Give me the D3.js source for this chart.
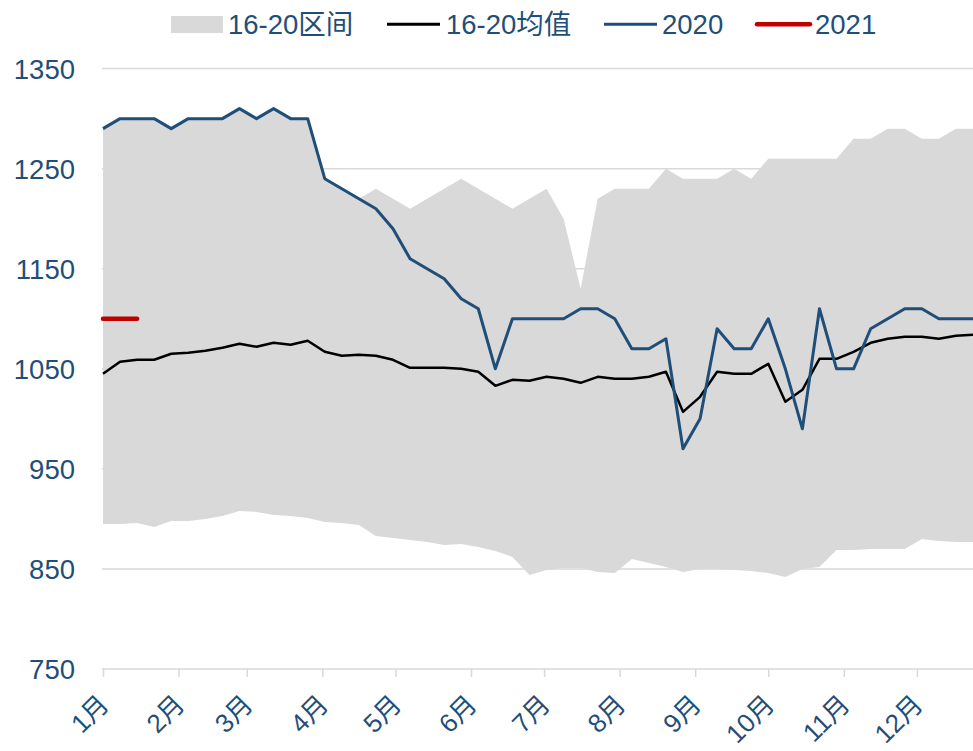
<!DOCTYPE html>
<html><head><meta charset="utf-8">
<script src="https://cdn.jsdelivr.net/npm/d3@7"></script>
<style>
html,body{margin:0;padding:0;background:#fff;}
svg text{font-family:"Liberation Sans","Noto Sans CJK SC",sans-serif;fill:#1F4E79;}
</style></head>
<body><svg id="c" width="973" height="751"></svg>
<script>
// ---- data ----
const monthLabels = ["1月","2月","3月","4月","5月","6月","7月","8月","9月","10月","11月","12月"];
const yTicks = [750, 850, 950, 1050, 1150, 1250, 1350];
const seriesNames = ["16-20区间", "16-20均值", "2020", "2021"];
const rangeUpper = [1290,1300,1300,1300,1290,1300,1300,1300,1310,1300,1310,1300,1300,
  1240,1230,1220,1230,1220,1210,1220,1230,1240,1230,1220,1210,1220,1230,
  1200,1130,1220,1230,1230,1230,1250,1240,1240,1240,1250,1240,
  1260,1260,1260,1260,1260,1280,1280,1290,1290,1280,1280,1290,1290];
const rangeLower = [895,895,896,892,898,898,900,903,908,907,904,903,901,
  897,896,894,883,881,879,877,874,875,872,868,862,844,
  849,851,851,847,846,860,856,852,847,850,850,849,848,
  846,842,850,852,869,869,870,870,870,880,878,877,877];
const avg1620 = [1045,1057,1059,1059,1065,1066,1068,1071,1075,1072,1076,1074,1078,
  1067,1063,1064,1063,1059,1051,1051,1051,1050,1047,1033,1039,1038,
  1042,1040,1036,1042,1040,1040,1042,1047,1007,1022,1047,1045,1045,
  1055,1017,1029,1060,1060,1067,1076,1080,1082,1082,1080,1083,1084];
const y2020 = [1290,1300,1300,1300,1290,1300,1300,1300,1310,1300,1310,1300,1300,
  1240,1230,1220,1210,1190,1160,1150,1140,1120,1110,1050,1100,1100,
  1100,1100,1110,1110,1100,1070,1070,1080,970,1000,1090,1070,1070,
  1100,1050,990,1110,1050,1050,1090,1100,1110,1110,1100,1100,1100];
const y2021 = [1100,1100,1100];

// ---- layout ----
const start = new Date(Date.UTC(2021,0,1));
const weeks = rangeUpper.map((_,i)=>d3.utcDay.offset(start, 7*i));
const svg = d3.select("#c");
const L = 103, R = 973, T = 68.6, B = 669;
const x = d3.scaleUtc().domain([weeks[0], weeks[weeks.length-1]]).range([L, R]);
const y = d3.scaleLinear().domain([750, 1350]).range([B, T]);
const FS = 27.5;
const cBand = "#d9d9d9", cAvg = "#000000", c2020 = "#1F4E79", c2021 = "#C00000";

// gridlines
svg.append("g").selectAll("line").data(yTicks.filter(v=>v>750)).join("line")
  .attr("x1", L-1).attr("x2", R).attr("y1", d=>y(d)).attr("y2", d=>y(d))
  .attr("stroke", cBand).attr("stroke-width", 1.5);

// band
const area = d3.area().x((d,i)=>x(weeks[i])).y0((d,i)=>y(rangeLower[i])).y1(d=>y(d));
svg.append("path").datum(rangeUpper).attr("d", area).attr("fill", cBand);

// x axis
const monthTicks = d3.utcMonth.range(start, new Date(Date.UTC(2021,11,2)));
const xAxis = d3.axisBottom(x).tickValues(monthTicks).tickSize(8)
  .tickFormat((d,i)=>monthLabels[i]);
const gx = svg.append("g").attr("transform", `translate(0,${B})`).call(xAxis);
gx.select(".domain").attr("stroke", cBand).attr("stroke-width", 1.5)
  .attr("d", `M${L-1},0H${R}`);
gx.selectAll(".tick line").attr("stroke", cBand).attr("stroke-width", 1.5);
gx.selectAll(".tick text").attr("fill", "#1F4E79").attr("font-size", 26)
  .attr("text-anchor", "end").attr("y", 0).attr("dy", 0)
  .attr("transform", "translate(7,37) rotate(-45)");

// y labels
const yAxis = d3.axisLeft(y).tickValues(yTicks).tickSize(0).tickPadding(0).tickFormat(d3.format("d"));
const gy = svg.append("g").attr("transform", `translate(75,0)`).call(yAxis);
gy.select(".domain").remove();
gy.selectAll(".tick text").attr("fill", "#1F4E79").attr("font-size", FS).attr("dy", "0.36em");

// lines
const line = d3.line().x((d,i)=>x(weeks[i])).y(d=>y(d));
svg.append("path").datum(avg1620).attr("d", line).attr("fill","none")
  .attr("stroke", cAvg).attr("stroke-width", 2.5).attr("stroke-linejoin","round");
svg.append("path").datum(y2020).attr("d", line).attr("fill","none")
  .attr("stroke", c2020).attr("stroke-width", 3).attr("stroke-linejoin","round");
svg.append("path").datum(y2021).attr("d", line).attr("fill","none")
  .attr("stroke", c2021).attr("stroke-width", 4.5).attr("stroke-linecap","round");

// legend
const lg = svg.append("g");
const legendItems = [
  {name: seriesNames[0], type: "rect", color: cBand, x: 171, tx: 228},
  {name: seriesNames[1], type: "line", color: cAvg, x: 387, tx: 446, w: 3},
  {name: seriesNames[2], type: "line", color: c2020, x: 604, tx: 662, w: 3},
  {name: seriesNames[3], type: "line", color: c2021, x: 757, tx: 815, w: 4.5}
];
legendItems.forEach(it=>{
  if (it.type === "rect") {
    lg.append("rect").attr("x", it.x).attr("y", 16).attr("width", 52).attr("height", 17).attr("fill", it.color);
  } else {
    lg.append("line").attr("x1", it.x).attr("x2", it.x+53).attr("y1", 24.3).attr("y2", 24.3)
      .attr("stroke", it.color).attr("stroke-width", it.w).attr("stroke-linecap", it.w>4?"round":"butt");
  }
  lg.append("text").attr("x", it.tx).attr("y", 33.5).attr("font-size", FS).text(it.name);
});
</script></body></html>
